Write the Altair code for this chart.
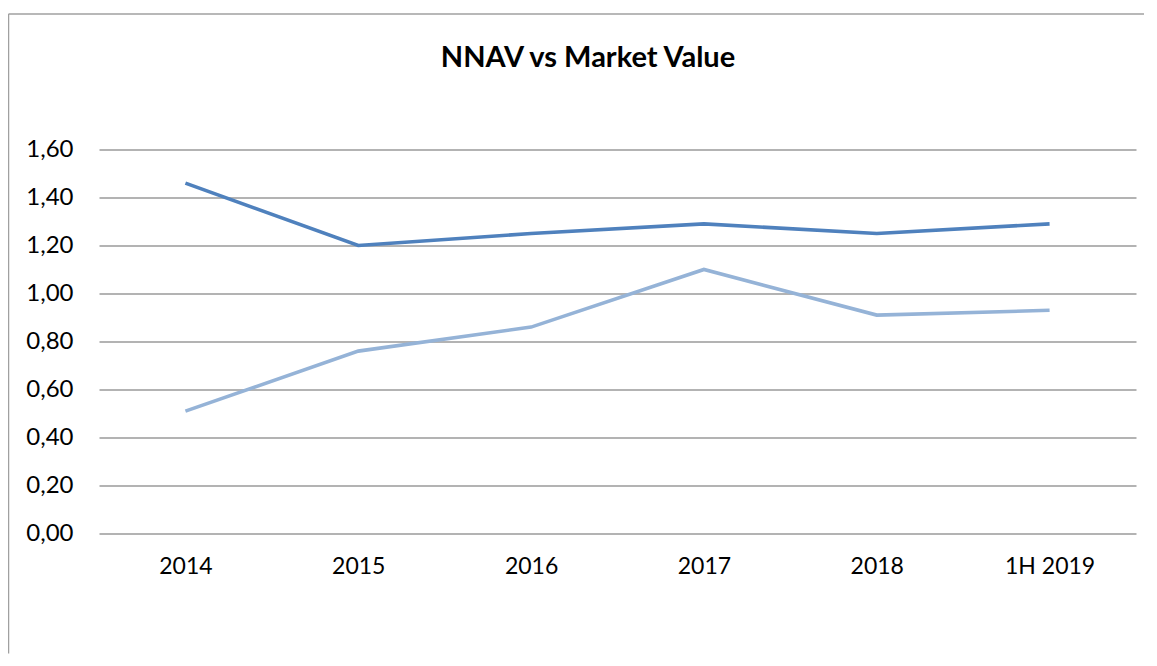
import altair as alt
import pandas as pd

categories = ["2014", "2015", "2016", "2017", "2018", "1H 2019"]
nnav = [1.46, 1.20, 1.25, 1.29, 1.25, 1.29]
market = [0.51, 0.76, 0.86, 1.10, 0.91, 0.93]
series_names = ["NNAV", "Market Value"]
y_ticks = [0.0, 0.2, 0.4, 0.6, 0.8, 1.0, 1.2, 1.4, 1.6]
title_text = "NNAV vs Market Value"

rows = []
for i, c in enumerate(categories):
    rows.append({"cat": c, "series": series_names[0], "value": nnav[i]})
    rows.append({"cat": c, "series": series_names[1], "value": market[i]})
df = pd.DataFrame(rows)

FONT = "Lato"

lines = alt.Chart(df).mark_line(strokeWidth=3.6).encode(
    x=alt.X("cat:N", sort=categories, title=None,
            scale=alt.Scale(type="point", padding=0.5),
            axis=alt.Axis(labelAngle=0, domain=False, ticks=False, grid=False,
                          labelPadding=22, labelFontSize=23, labelColor="#000000",
                          labelFont=FONT)),
    y=alt.Y("value:Q", title=None,
            scale=alt.Scale(domain=[0, 1.6], nice=False, zero=True),
            axis=alt.Axis(values=y_ticks, domain=False, ticks=False, grid=True,
                          gridColor="#9a9a9a", gridWidth=1.3,
                          labelExpr="replace(format(datum.value, '.2f'), '.', ',')",
                          labelPadding=26, labelFontSize=24, labelColor="#000000",
                          labelFont=FONT)),
    color=alt.Color("series:N", sort=series_names, legend=None,
                    scale=alt.Scale(domain=series_names, range=["#4f81bd", "#95b3d7"])),
    detail="series:N",
)

one = pd.DataFrame({"a": [0]})
frame_top = alt.Chart(one).mark_rule(stroke="#a0a0a0", strokeWidth=1.5).encode(
    x=alt.value(-90.5), x2=alt.value(1045), y=alt.value(-135.5)
)
frame_left = alt.Chart(one).mark_rule(stroke="#a0a0a0", strokeWidth=1.5).encode(
    x=alt.value(-90.5), y=alt.value(-135.5), y2=alt.value(504)
)
title = alt.Chart(pd.DataFrame({"t": [title_text]})).mark_text(
    font=FONT, fontSize=29, fontWeight="bold", color="#000000",
    align="center", baseline="middle"
).encode(x=alt.value(489), y=alt.value(-92), text="t:N")

chart = alt.layer(frame_top, frame_left, lines, title).properties(
    width=1037, height=384,
    autosize=alt.AutoSizeParams(type="none"),
    padding={"left": 91, "top": 141.5, "right": 13, "bottom": 124},
).configure_view(stroke=None)

chart.save("out.html", embed_options={"renderer": "svg", "actions": False})
